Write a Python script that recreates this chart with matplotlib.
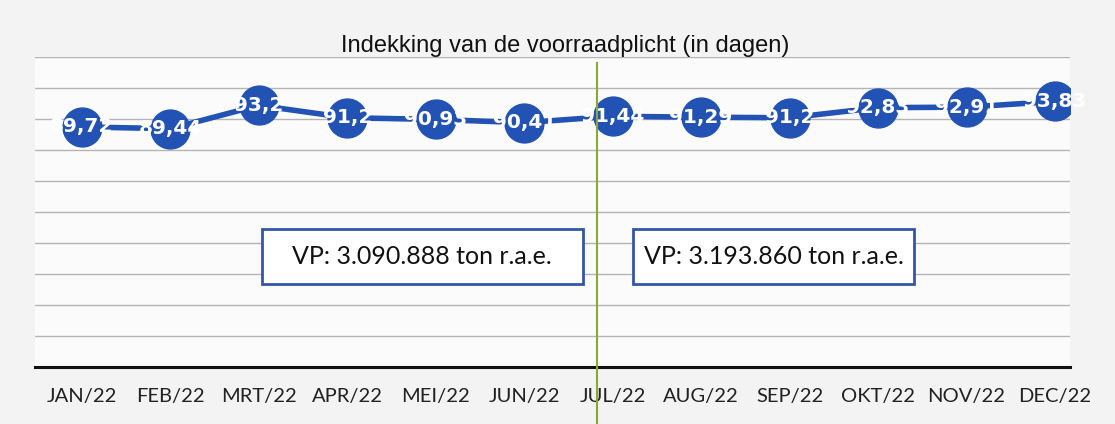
import matplotlib
matplotlib.use("Agg")
import matplotlib.pyplot as plt
from matplotlib.patches import Rectangle
import numpy as np

# data
months = ["JAN/22", "FEB/22", "MRT/22", "APR/22", "MEI/22", "JUN/22",
          "JUL/22", "AUG/22", "SEP/22", "OKT/22", "NOV/22", "DEC/22"]
days = [89.72, 89.44, 93.2, 91.2, 90.93, 90.41, 91.44, 91.29, 91.2, 92.83, 92.91, 93.83]
day_labels = ["89,72", "89,44", "93,2", "91,2", "90,93", "90,41",
              "91,44", "91,29", "91,2", "92,83", "92,91", "93,83"]
vp_first_half = "VP: 3.090.888 ton r.a.e."
vp_second_half = "VP: 3.193.860 ton r.a.e."
split_pos = 5.82

BLUE = "#2152b4"
BOX_EDGE = "#3356a8"

fig = plt.figure(figsize=(11.15, 4.24), dpi=100, facecolor="#f3f3f3")
ax = fig.add_axes([35 / 1115, (424 - 367) / 424, (1070 - 35) / 1115, (367 - 57) / 424])
ax.set_facecolor("#fbfbfb")

x = np.arange(len(months))
ax.set_xlim(-0.53, 11.17)
ax.set_ylim(51, 101)

for y in np.arange(56, 102, 5):
    ax.axhline(y, color="#b4b4b4", linewidth=1.0, zorder=1)

ax.plot(x, days, color=BLUE, linewidth=4, marker="o", markersize=28,
        markerfacecolor=BLUE, markeredgecolor=BLUE, zorder=3)
for xi, yi, lab in zip(x, days, day_labels):
    ax.text(xi, yi, lab, ha="center", va="center", color="white",
            fontsize=14.5, fontweight="bold", family="DejaVu Sans", zorder=4)

ax.axvline(split_pos, ymin=-0.2, ymax=0.98, color="#8aa832", linewidth=1.5,
           zorder=5, clip_on=False)

# annotation boxes (axes fraction)
for (x0, x1), label in (((0.219, 0.529), vp_first_half), ((0.578, 0.849), vp_second_half)):
    ax.add_patch(Rectangle((x0, 0.268), x1 - x0, 0.177, transform=ax.transAxes,
                           facecolor="white", edgecolor=BOX_EDGE, linewidth=2, zorder=6))
    ax.text((x0 + x1) / 2, 0.356, label, transform=ax.transAxes, ha="center", va="center",
            fontsize=18, family="Lato", color="#111111", zorder=7)

ax.set_xticks(x)
ax.set_xticklabels(months, fontsize=14.5, family="Lato", color="#222222")
ax.tick_params(axis="x", length=0, pad=15)
ax.set_yticks([])
for side in ("top", "left", "right"):
    ax.spines[side].set_visible(False)
ax.spines["bottom"].set_color("#111111")
ax.spines["bottom"].set_linewidth(2.2)

fig.text(565 / 1115, 1 - 46 / 424, "Indekking van de voorraadplicht (in dagen)",
         ha="center", va="center", fontsize=17, family="Liberation Sans", color="#111111")

fig.savefig("out.png", dpi=100, facecolor=fig.get_facecolor())
